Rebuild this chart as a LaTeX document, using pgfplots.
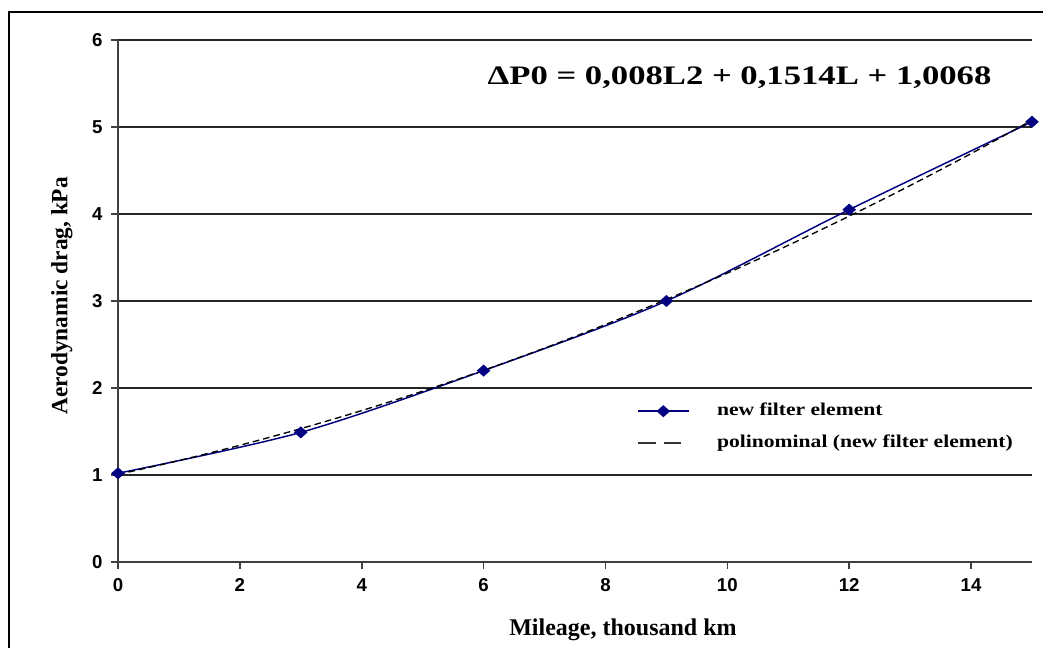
\documentclass[border=0pt]{standalone}
\usepackage{pgfplots}
\pgfplotsset{compat=1.18}
\usepackage{fontspec}
\setmainfont{Liberation Serif}
\setsansfont{Liberation Sans}
\newfontfamily\eqfont{Liberation Serif}[FakeStretch=1.3]
\newfontfamily\legfont{Liberation Serif}[FakeStretch=1.2]
\definecolor{navyb}{RGB}{0,0,128}
\pgfplotsset{dashleg/.style={legend image code/.code={\draw[line width=1.4pt, black!80, dash pattern=on 13pt off 6pt] (0pt,0pt) -- (32pt,0pt);}}}
\begin{document}
\begin{tikzpicture}
\useasboundingbox (0,0) rectangle (782.25pt,485.25pt);
\draw[line width=1.5pt] (6.75pt,-20pt) rectangle (820pt,476.25pt);
\begin{axis}[
  at={(88.5pt,63.75pt)}, anchor=south west,
  scale only axis, width=685.5pt, height=391.5pt,
  xmin=0, xmax=15, ymin=0, ymax=6,
  xtick={0,2,...,14}, ytick={0,1,...,6},
  axis lines*=left,
  axis line style={line width=1.5pt, black!75, -},
  ymajorgrids, grid style={line width=1pt, black!85},
  tick align=outside, major tick length=5pt,
  tick style={line width=1.2pt, black!75},
  clip=false,
  /pgf/number format/assume math mode=true,
  ticklabel style={font=\sffamily\bfseries\fontsize{14}{16}\selectfont},
  xticklabel style={yshift=-4pt},
  yticklabel style={xshift=-3pt},
  xlabel={Mileage, thousand km},
  xlabel style={at={(axis description cs:0.5525,-0.13)}, anchor=center, font=\bfseries\fontsize{18}{20}\selectfont},
  ylabel={Aerodynamic drag, kPa},
  ylabel style={at={(axis description cs:-0.0613,0.51)}, anchor=center, font=\bfseries\fontsize{17.5}{20}\selectfont},
  legend cell align=left,
  legend image code/.code={\draw[mark repeat=2,mark phase=2,#1] plot coordinates {(0pt,0pt)(18.75pt,0pt)(37.5pt,0pt)};},
  legend style={at={(axis description cs:0.568,0.306)}, anchor=north west, draw=none, fill=none, inner sep=0pt,
    font=\legfont\bfseries\fontsize{13.5}{15}\selectfont, row sep=11pt,
    nodes={inner sep=0pt, text height=10pt, text depth=3pt},
    /tikz/every odd column/.append style={column sep=21pt}},
]
\addplot[navyb, line width=1.1pt, smooth, mark=diamond*, mark size=3.8pt, mark options={xscale=1.5, solid}]
  coordinates {(0,1.02)(3,1.49)(6,2.2)(9,3.0)(12,4.05)(15,5.06)};
\addlegendentry{new filter element}
\addplot[black, line width=1pt, dash pattern=on 5pt off 3pt, smooth, dashleg]
  coordinates {(0,1.0068)(1,1.1662)(2,1.3416)(3,1.533)(4,1.7404)(5,1.9638)(6,2.2032)(7,2.4586)(8,2.73)(9,3.0174)(10,3.3208)(11,3.6402)(12,3.9756)(13,4.327)(14,4.6944)(15,5.0778)};
\addlegendentry{polinominal (new filter element)}
\node[font=\eqfont\bfseries\fontsize{20}{24}\selectfont] at (axis description cs:0.68,0.927) {ΔP0 = 0,008L2 + 0,1514L + 1,0068};
\end{axis}
\end{tikzpicture}
\end{document}
